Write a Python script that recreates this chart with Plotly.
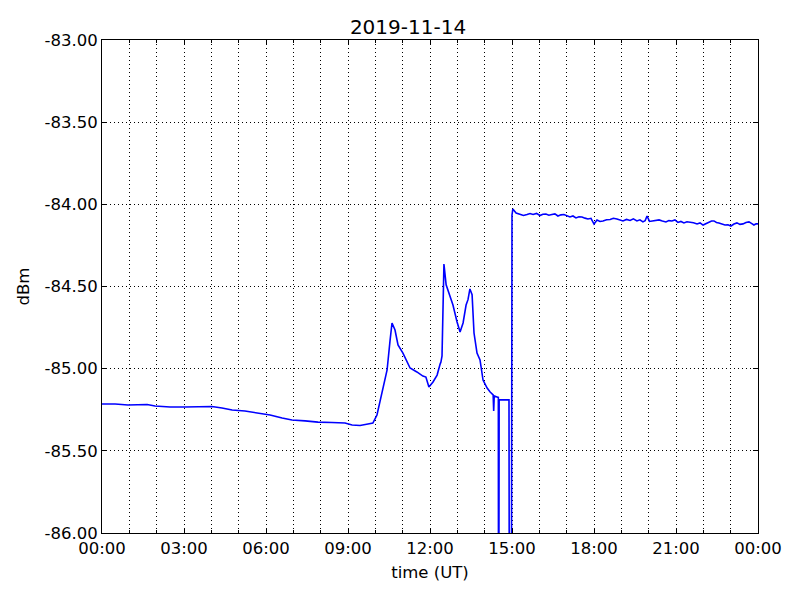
import plotly.graph_objects as go
import pandas as pd

# hours since 2019-11-14 00:00 UT
hours = [0.0, 0.48, 0.95, 1.39, 1.65, 1.94, 2.49, 3.04, 3.59, 4.02, 4.39, 4.76, 5.23, 5.71,
         6.15, 6.59, 6.95, 7.43, 7.90, 8.41, 8.89, 9.15, 9.44, 9.73, 9.91, 10.06, 10.28,
         10.43, 10.54, 10.61, 10.72, 10.83, 11.01, 11.16, 11.27, 11.52, 11.74, 11.85, 11.96,
         12.11, 12.26, 12.37, 12.40, 12.44, 12.48, 12.51, 12.59, 12.70, 12.84, 12.99, 13.10,
         13.21, 13.32, 13.39, 13.46, 13.54, 13.57, 13.61, 13.72, 13.83, 13.94, 14.09, 14.20,
         14.31, 14.33, 14.35, 14.45, 14.50, 14.51, 14.53, 14.56, 14.89, 14.91, 14.93, 14.97,
         15.0, 15.03, 15.15, 15.29, 15.42, 15.55, 15.66, 15.77, 15.90, 16.02, 16.13, 16.24,
         16.35, 16.46, 16.57, 16.68, 16.79, 16.90, 17.01, 17.12, 17.23, 17.34, 17.45, 17.56,
         17.67, 17.78, 17.89, 18.0, 18.11, 18.22, 18.33, 18.46, 18.59, 18.71, 18.84, 18.95,
         19.06, 19.19, 19.32, 19.44, 19.57, 19.68, 19.79, 19.87, 19.94, 20.03, 20.12, 20.25,
         20.38, 20.50, 20.63, 20.74, 20.85, 20.96, 21.07, 21.18, 21.29, 21.40, 21.51, 21.64,
         21.77, 21.88, 21.99, 22.10, 22.21, 22.30, 22.39, 22.48, 22.57, 22.68, 22.79, 22.90,
         23.01, 23.12, 23.23, 23.34, 23.45, 23.56, 23.67, 23.76, 23.85, 23.93, 24.0]

dbm = [-85.215, -85.215, -85.221, -85.221, -85.218, -85.227, -85.233, -85.233, -85.233,
       -85.230, -85.239, -85.252, -85.258, -85.270, -85.282, -85.300, -85.312, -85.318,
       -85.325, -85.328, -85.331, -85.343, -85.346, -85.337, -85.331, -85.282, -85.130,
       -85.008, -84.826, -84.722, -84.765, -84.856, -84.905, -84.959, -84.996, -85.020,
       -85.045, -85.051, -85.112, -85.081, -85.039, -84.972, -84.960, -84.923, -84.580,
       -84.363, -84.490, -84.540, -84.613, -84.716, -84.777, -84.722, -84.613, -84.580,
       -84.515, -84.550, -84.700, -84.783, -84.905, -84.947, -85.069, -85.118, -85.142,
       -85.160, -85.258, -85.166, -85.172, -85.175, -87.5, -85.190, -85.190, -85.190,
       -87.5, -87.5, -87.5, -84.065, -84.029, -84.053, -84.059, -84.068, -84.062, -84.056,
       -84.062, -84.055, -84.068, -84.060, -84.059, -84.066, -84.062, -84.058, -84.071,
       -84.064, -84.062, -84.070, -84.077, -84.071, -84.083, -84.076, -84.077, -84.084,
       -84.089, -84.085, -84.120, -84.095, -84.104, -84.101, -84.094, -84.092, -84.085,
       -84.089, -84.097, -84.101, -84.092, -84.098, -84.088, -84.101, -84.094, -84.107,
       -84.100, -84.071, -84.104, -84.101, -84.095, -84.095, -84.102, -84.107, -84.099,
       -84.101, -84.095, -84.110, -84.104, -84.113, -84.106, -84.107, -84.112, -84.119,
       -84.113, -84.126, -84.116, -84.107, -84.101, -84.101, -84.110, -84.113, -84.121,
       -84.126, -84.124, -84.132, -84.120, -84.113, -84.122, -84.119, -84.111, -84.107,
       -84.116, -84.126, -84.118, -84.119]

y_ticks = [-86.0, -85.5, -85.0, -84.5, -84.0, -83.5, -83.0]
y_tick_labels = ["-86.00", "-85.50", "-85.00", "-84.50", "-84.00", "-83.50", "-83.00"]

t0 = pd.Timestamp("2019-11-14 00:00:00")
times = [t0 + pd.Timedelta(hours=h) for h in hours]

font = "DejaVu Sans"
fs = 16.5

fig = go.Figure()
fig.add_trace(go.Scatter(x=times, y=dbm, mode="lines",
                         line=dict(color="#0000ff", width=1.6), showlegend=False))

fig.update_layout(
    width=800, height=600,
    margin=dict(l=94, r=50, t=32, b=75),
    paper_bgcolor="white", plot_bgcolor="white",
    font=dict(family=font, size=fs, color="black"),
    title=dict(text="2019-11-14", x=0.5, xanchor="center", y=1 - 19 / 600, yanchor="middle",
               font=dict(family=font, size=20, color="black")),
)

grid_dash = "1px,3px"

fig.update_xaxes(
    type="date",
    range=[t0, t0 + pd.Timedelta(hours=24)],
    dtick=3 * 3600000, tick0=t0, tickformat="%H:%M",
    ticks="inside", ticklen=5, tickcolor="black", tickwidth=1,
    showline=True, linecolor="black", linewidth=1, mirror="ticks",
    showgrid=True, gridcolor="black", griddash=grid_dash, gridwidth=1,
    minor=dict(dtick=3600000, tick0=t0, ticks="inside", ticklen=3, tickcolor="black",
               showgrid=True, gridcolor="black", griddash=grid_dash, gridwidth=1),
    zeroline=False,
    title=dict(text="time (UT)", font=dict(family=font, size=fs), standoff=9),
    tickfont=dict(family=font, size=fs),
)

fig.update_yaxes(
    range=[-86, -83],
    tickvals=y_ticks, ticktext=y_tick_labels,
    ticks="inside", ticklen=5, tickcolor="black", tickwidth=1,
    showline=True, linecolor="black", linewidth=1, mirror="ticks",
    showgrid=True, gridcolor="black", griddash=grid_dash, gridwidth=1,
    zeroline=False,
    title=dict(text="dBm", font=dict(family=font, size=fs), standoff=10),
    tickfont=dict(family=font, size=fs),
)

fig.write_html("out.html")
